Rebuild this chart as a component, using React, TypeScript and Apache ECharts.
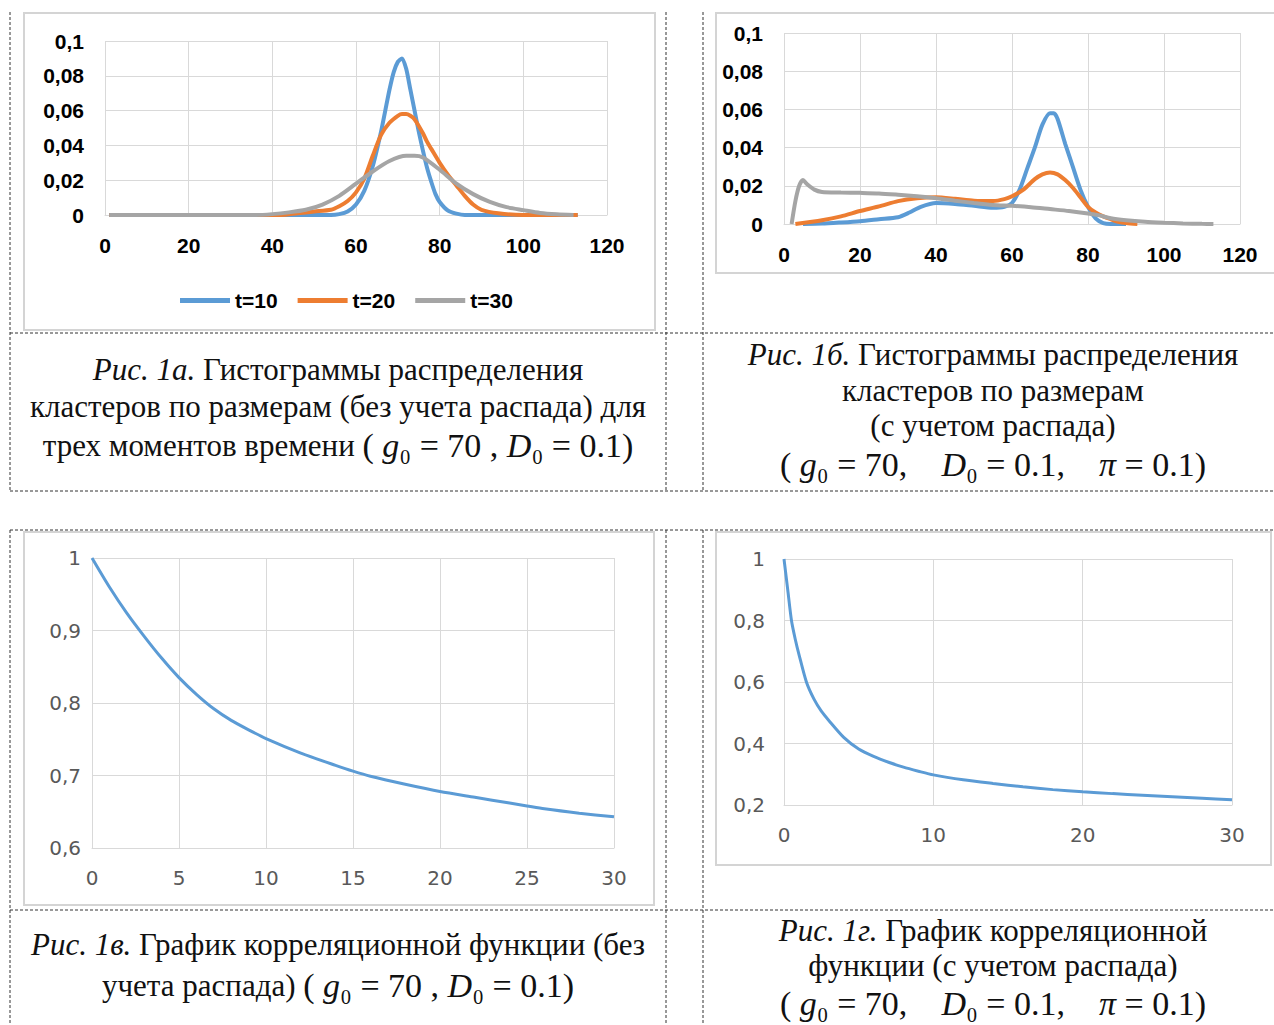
import React, { useEffect, useRef } from 'react';
import * as echarts from 'echarts';

const BLUE = '#5B9BD5';
const ORANGE = '#ED7D31';
const GRAY = '#A5A5A5';
const GRID = '#D9D9D9';
const SERIF = '"Liberation Serif", "Times New Roman", serif';
const SANS_B = '"Liberation Sans", Arial, sans-serif';
const SANS_L = '"DejaVu Sans", sans-serif';

const seriesNames = ['t=10', 't=20', 't=30'];

// Fig. 1a — histograms without decay
const a10X = [1, 54, 56, 58, 60, 62, 64, 66, 67, 68, 69, 70, 71, 72, 73, 74, 75, 76, 77, 78, 79, 80, 82, 84, 86, 113];
const a10Y = [0, 0, 0.0005, 0.002, 0.006, 0.014, 0.028, 0.048, 0.06, 0.072, 0.082, 0.088, 0.09, 0.084, 0.072, 0.06, 0.048, 0.037, 0.027, 0.019, 0.012, 0.0075, 0.0025, 0.0008, 0, 0];
const a20X = [1, 42, 46, 50, 54, 56, 58, 60, 62, 64, 66, 68, 70, 71, 72, 73, 74, 76, 77, 78, 80, 82, 84, 86, 88, 90, 94, 100, 113];
const a20Y = [0, 0, 0.001, 0.002, 0.003, 0.005, 0.008, 0.013, 0.021, 0.034, 0.046, 0.053, 0.057, 0.058, 0.058, 0.057, 0.055, 0.047, 0.042, 0.038, 0.03, 0.023, 0.017, 0.011, 0.006, 0.003, 0.001, 0, 0];
const a30X = [1, 36, 40, 44, 48, 52, 56, 60, 64, 68, 72, 74, 76, 80, 84, 88, 92, 96, 100, 104, 108, 112];
const a30Y = [0, 0, 0.0005, 0.0015, 0.003, 0.006, 0.011, 0.018, 0.025, 0.031, 0.034, 0.034, 0.033, 0.026, 0.018, 0.012, 0.0075, 0.0045, 0.0028, 0.0012, 0.0004, 0];

// Fig. 1b — histograms with decay
const b10X = [5, 10, 15, 20, 25, 30, 33, 36, 40, 45, 50, 55, 58, 60, 62, 64, 66, 68, 70, 71, 72, 74, 76, 78, 80, 82, 84, 86, 90];
const b10Y = [0, 0.0002, 0.0008, 0.0015, 0.0025, 0.0035, 0.006, 0.009, 0.011, 0.0105, 0.0095, 0.0085, 0.009, 0.011, 0.018, 0.029, 0.04, 0.052, 0.058, 0.058, 0.055, 0.042, 0.03, 0.018, 0.009, 0.003, 0.0005, 0, 0];
const b20X = [3, 10, 15, 20, 25, 30, 35, 40, 45, 50, 55, 58, 60, 63, 66, 68, 70, 72, 74, 76, 78, 80, 82, 84, 86, 88, 90, 93];
const b20Y = [0, 0.002, 0.004, 0.0068, 0.0092, 0.012, 0.0135, 0.014, 0.0132, 0.0122, 0.012, 0.013, 0.0145, 0.018, 0.0235, 0.026, 0.027, 0.026, 0.023, 0.019, 0.014, 0.009, 0.006, 0.004, 0.0025, 0.0012, 0.0005, 0];
const b30X = [2, 3, 4, 5, 6, 8, 10, 15, 20, 25, 30, 35, 40, 45, 50, 55, 60, 65, 70, 75, 80, 83, 86, 90, 95, 100, 105, 110, 113];
const b30Y = [0, 0.012, 0.02, 0.023, 0.021, 0.018, 0.0168, 0.0165, 0.0163, 0.016, 0.0153, 0.0145, 0.0135, 0.0122, 0.011, 0.01, 0.0095, 0.0088, 0.0078, 0.0068, 0.0055, 0.0045, 0.003, 0.002, 0.0012, 0.0007, 0.0003, 0.0001, 0];

// Fig. 1c — correlation function without decay
const cX = [0, 1, 2, 3, 4, 5, 6, 7, 8, 9, 10, 12, 14, 15, 16, 18, 20, 22, 24, 25, 26, 28, 30];
const cY = [1, 0.96, 0.924, 0.892, 0.862, 0.835, 0.812, 0.792, 0.776, 0.763, 0.751, 0.731, 0.714, 0.706, 0.699, 0.688, 0.678, 0.67, 0.662, 0.658, 0.654, 0.648, 0.643];

// Fig. 1d — correlation function with decay
const dX = [0, 0.25, 0.5, 0.75, 1, 1.5, 2, 2.5, 3, 4, 5, 6, 7, 8, 9, 10, 12, 14, 16, 18, 20, 22, 24, 26, 28, 30];
const dY = [1.0, 0.9, 0.8, 0.74, 0.69, 0.6, 0.545, 0.505, 0.475, 0.42, 0.382, 0.358, 0.339, 0.323, 0.31, 0.298, 0.282, 0.27, 0.259, 0.25, 0.243, 0.237, 0.232, 0.227, 0.222, 0.217];

// Tick labels
const histYLabels = ['0', '0,02', '0,04', '0,06', '0,08', '0,1'];
const histXLabels = ['0', '20', '40', '60', '80', '100', '120'];
const cYLabels = ['0,6', '0,7', '0,8', '0,9', '1'];
const cXLabels = ['0', '5', '10', '15', '20', '25', '30'];
const dYLabels = ['0,2', '0,4', '0,6', '0,8', '1'];
const dXLabels = ['0', '10', '20', '30'];

const zip = (xs: number[], ys: number[]) => xs.map((x, i) => [x, ys[i]]);

function xAxisCfg(grid: number, min: number, max: number, interval: number, labels: string[], bold: boolean) {
  return {
    type: 'value', gridIndex: grid, min, max, interval,
    axisLine: { show: true, lineStyle: { color: GRID, width: 1 } },
    axisTick: { show: false },
    splitLine: { show: true, lineStyle: { color: GRID, width: 1 } },
    axisLabel: {
      margin: 20,
      formatter: (v: number) => labels[Math.round((v - min) / interval)] ?? '',
      fontFamily: bold ? SANS_B : SANS_L,
      fontWeight: bold ? 'bold' : 'normal',
      fontSize: bold ? 21 : 20,
      color: bold ? '#000' : '#595959',
    },
  };
}
function yAxisCfg(grid: number, min: number, max: number, interval: number, labels: string[], bold: boolean, margin: number) {
  return {
    type: 'value', gridIndex: grid, min, max, interval,
    axisLine: { show: false },
    axisTick: { show: false },
    splitLine: { show: true, lineStyle: { color: GRID, width: 1 } },
    axisLabel: {
      margin,
      formatter: (v: number) => labels[Math.round((v - min) / interval)] ?? '',
      fontFamily: bold ? SANS_B : SANS_L,
      fontWeight: bold ? 'bold' : 'normal',
      fontSize: bold ? 21 : 20,
      color: bold ? '#000' : '#595959',
    },
  };
}
function lineSeries(name: string, grid: number, data: number[][], color: string, width: number) {
  return {
    type: 'line', name, xAxisIndex: grid, yAxisIndex: grid, data,
    symbol: 'none', showSymbol: false, smooth: 0.25,
    lineStyle: { color, width }, itemStyle: { color },
  };
}

const dash = (x1: number, y1: number, x2: number, y2: number) => ({
  type: 'line', silent: true,
  shape: { x1, y1, x2, y2 },
  style: { stroke: '#333', lineWidth: 1, lineDash: [3, 2] },
});
const frame = (x: number, y: number, w: number, h: number) => ({
  type: 'rect', silent: true, z: -1,
  shape: { x, y, width: w, height: h },
  style: { fill: '#fff', stroke: '#D4D4D4', lineWidth: 2 },
});
const rich = {
  i: { fontFamily: SERIF, fontStyle: 'italic', fontSize: 31, fill: '#111' },
  m: { fontFamily: SERIF, fontSize: 34, fill: '#111' },
  mi: { fontFamily: SERIF, fontStyle: 'italic', fontSize: 34, fill: '#111' },
};
const cap = (x: number, y: number, text: string) => ({
  type: 'text', silent: true, x, y,
  style: {
    text, rich, fontFamily: SERIF, fontSize: 31, fill: '#111',
    align: 'center', verticalAlign: 'middle',
  },
});

const option = {
  animation: false,
  backgroundColor: '#fff',
  grid: [
    { left: 105, top: 41, width: 502, height: 174 },
    { left: 784, top: 33, width: 456, height: 191 },
    { left: 92, top: 558, width: 522, height: 290 },
    { left: 784, top: 559, width: 448, height: 246 },
  ],
  xAxis: [
    xAxisCfg(0, 0, 120, 20, histXLabels, true),
    xAxisCfg(1, 0, 120, 20, histXLabels, true),
    xAxisCfg(2, 0, 30, 5, cXLabels, false),
    xAxisCfg(3, 0, 30, 10, dXLabels, false),
  ],
  yAxis: [
    yAxisCfg(0, 0, 0.1, 0.02, histYLabels, true, 21),
    yAxisCfg(1, 0, 0.1, 0.02, histYLabels, true, 21),
    yAxisCfg(2, 0.6, 1, 0.1, cYLabels, false, 11),
    yAxisCfg(3, 0.2, 1, 0.2, dYLabels, false, 19),
  ],
  legend: {
    data: seriesNames, left: 175, top: 285, icon: 'rect',
    itemWidth: 50, itemHeight: 5, itemGap: 20,
    textStyle: { fontFamily: SANS_B, fontWeight: 'bold', fontSize: 21, color: '#000' },
  },
  series: [
    lineSeries(seriesNames[0], 0, zip(a10X, a10Y), BLUE, 4),
    lineSeries(seriesNames[1], 0, zip(a20X, a20Y), ORANGE, 4),
    lineSeries(seriesNames[2], 0, zip(a30X, a30Y), GRAY, 4),
    lineSeries(seriesNames[0], 1, zip(b10X, b10Y), BLUE, 4),
    lineSeries(seriesNames[1], 1, zip(b20X, b20Y), ORANGE, 4),
    lineSeries(seriesNames[2], 1, zip(b30X, b30Y), GRAY, 4),
    lineSeries('c', 2, zip(cX, cY), BLUE, 3),
    lineSeries('d', 3, zip(dX, dY), BLUE, 3),
  ],
  graphic: [
    frame(24, 13, 631, 317),
    frame(716, 13, 570, 260),
    frame(24, 532, 630, 373),
    frame(716, 532, 555, 333),
    dash(10, 12, 10, 491), dash(666, 12, 666, 491), dash(703, 12, 703, 491),
    dash(10, 333, 1274, 333), dash(10, 491, 1274, 491),
    dash(10, 530, 1274, 530), dash(10, 910, 1274, 910),
    dash(10, 530, 10, 1025), dash(666, 530, 666, 1025), dash(703, 530, 703, 1025),
    cap(338, 369, '{i|Рис. 1а.} Гистограммы распределения'),
    cap(338, 406, 'кластеров по размерам (без учета распада) для'),
    cap(338, 445, 'трех моментов времени {m|( }{mi|g}{m|₀ = 70 , }{mi|D}{m|₀ = 0.1)}'),
    cap(993, 354, '{i|Рис. 1б.} Гистограммы распределения'),
    cap(993, 390, 'кластеров по размерам'),
    cap(993, 425, '(с учетом распада)'),
    cap(993, 464, '{m|( }{mi|g}{m|₀ = 70,    }{mi|D}{m|₀ = 0.1,    }{mi|π}{m| = 0.1)}'),
    cap(338, 944, '{i|Рис. 1в.} График корреляционной функции (без'),
    cap(338, 985, 'учета распада) {m|( }{mi|g}{m|₀ = 70 , }{mi|D}{m|₀ = 0.1)}'),
    cap(993, 930, '{i|Рис. 1г.} График корреляционной'),
    cap(993, 965, 'функции (с учетом распада)'),
    cap(993, 1003, '{m|( }{mi|g}{m|₀ = 70,    }{mi|D}{m|₀ = 0.1,    }{mi|π}{m| = 0.1)}'),
  ],
};

export default function App() {
  const ref = useRef<HTMLDivElement>(null);
  useEffect(() => {
    const chart = echarts.init(ref.current!, null, { renderer: 'svg' });
    chart.setOption(option as any);
    return () => chart.dispose();
  }, []);
  return (
    <div
      ref={ref}
      style={{ position: 'fixed', left: 0, top: 0, width: 1274, height: 1025, background: '#fff' }}
    />
  );
}
